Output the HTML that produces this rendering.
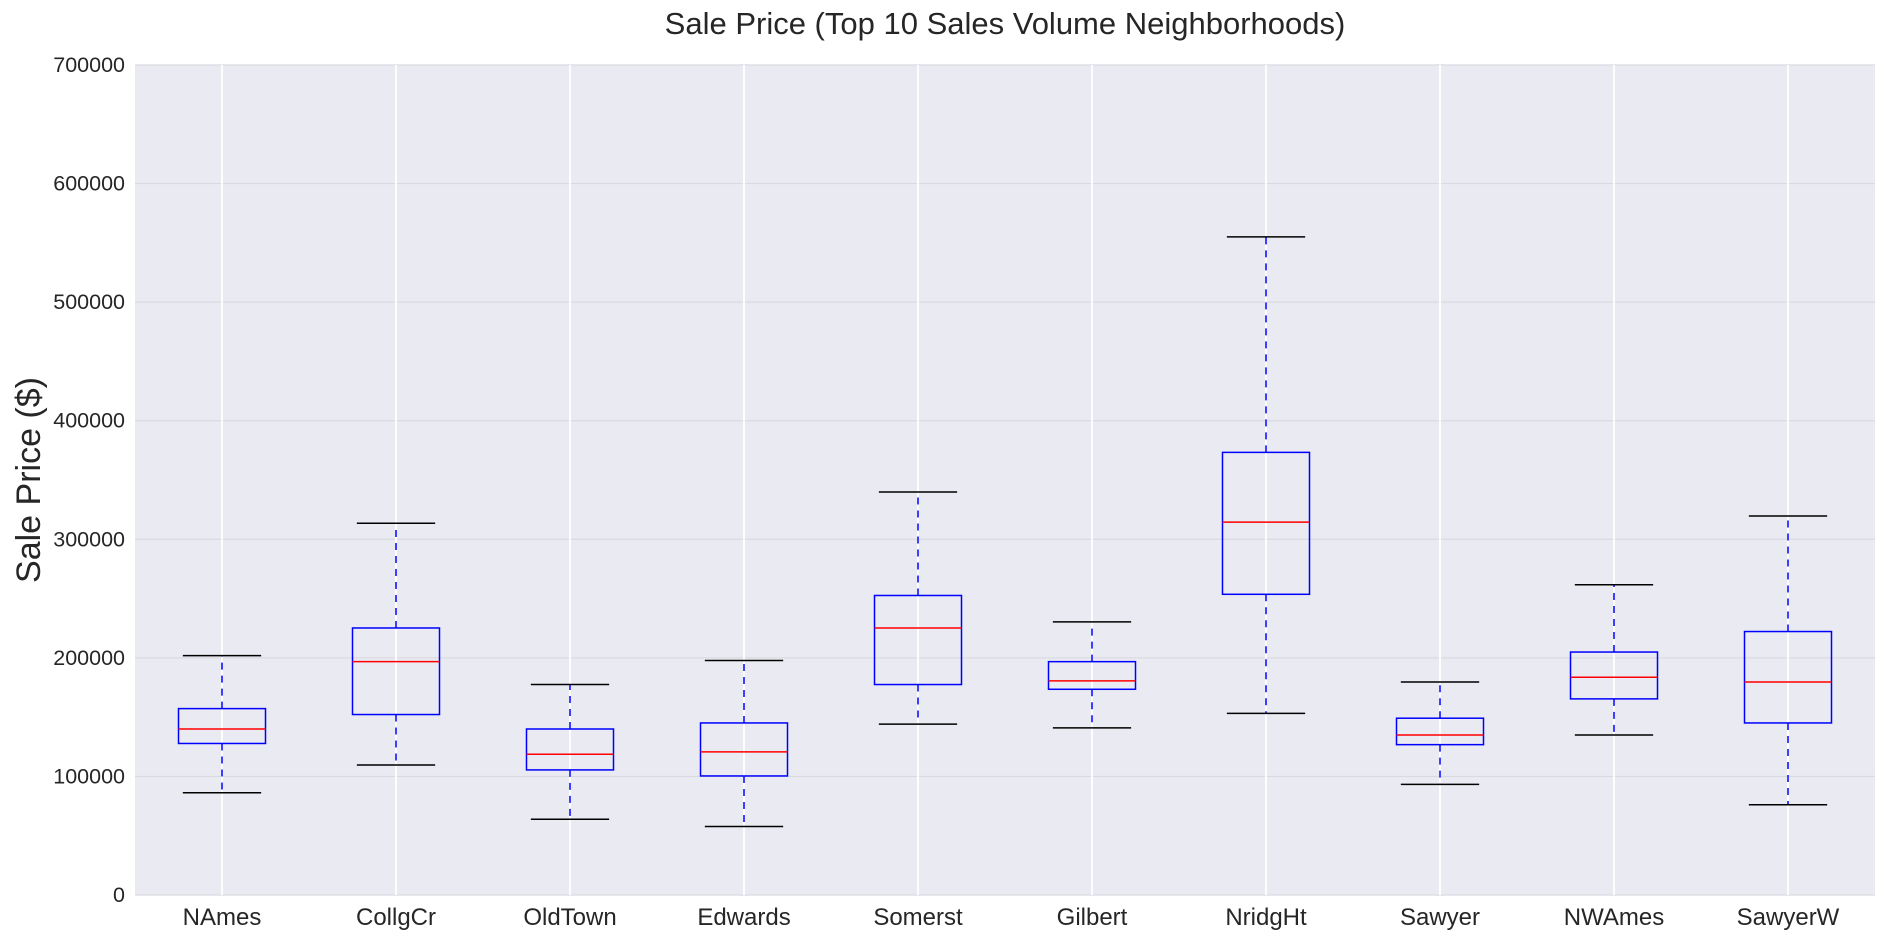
<!DOCTYPE html>
<html><head><meta charset="utf-8"><style>
body{margin:0;background:#fff;}
svg{display:block;font-family:"Liberation Sans",Arial,sans-serif;}
</style></head><body>
<svg id="chart" width="1884" height="938">
<rect x="135" y="65" width="1740" height="830" fill="#eaeaf2"/>
<g id="grid"></g>
<g id="marks"></g>
<g id="axes"></g>
<text x="1005" y="34" text-anchor="middle" font-size="31" fill="#262626">Sale Price (Top 10 Sales Volume Neighborhoods)</text>
<text transform="translate(40,480) rotate(-90)" text-anchor="middle" font-size="34" fill="#262626">Sale Price ($)</text>
</svg>
<script>
const categories=["NAmes","CollgCr","OldTown","Edwards","Somerst","Gilbert","NridgHt","Sawyer","NWAmes","SawyerW"];
const whiskerLow=[86200,109600,63900,57800,144100,141000,153200,93300,134900,76100];
const q1=[127800,152200,105500,100400,177500,173500,253600,126800,165400,145100];
const median=[140000,196800,118700,120700,225200,180600,314500,134900,183600,179600];
const q3=[157200,225200,140000,145100,252600,196800,373300,149100,204900,222200];
const whiskerHigh=[201900,313500,177500,197800,339900,230300,555000,179600,261700,319600];
const yTicks=[0,100000,200000,300000,400000,500000,600000,700000];
const NS="http://www.w3.org/2000/svg";
const X0=135,X1=1875,Y0=895,Y1=65,YMAX=700000;
function xs(i){return X0+(i+0.5)*(X1-X0)/categories.length;}
function ys(v){return Y0-(v/YMAX)*(Y0-Y1);}
const unit=(X1-X0)/categories.length;
function mk(tag,attrs,parent){const e=document.createElementNS(NS,tag);for(const k in attrs)e.setAttribute(k,attrs[k]);parent.appendChild(e);return e;}
const grid=document.getElementById('grid'),marks=document.getElementById('marks'),axes=document.getElementById('axes');
yTicks.forEach(t=>{
 const l=mk('line',{x1:X0,x2:X1,y1:ys(t),y2:ys(t),stroke:'#d9d9e0','stroke-width':1.2},grid);
 
 
 const tx=mk('text',{x:X0-10,y:ys(t)+7,'text-anchor':'end','font-size':21.5,fill:'#262626'},axes);
 tx.textContent=String(t);
 
 
});
categories.forEach((c,i)=>{
 const x=xs(i);
 const g=mk('line',{x1:x,x2:x,y1:Y1,y2:Y0,stroke:'#ffffff','stroke-width':1.8},grid);
 
 
 const grp=mk('g',{},marks);
 
 
 const bw=unit*0.5, cw=unit*0.45;
 mk('line',{x1:x,x2:x,y1:ys(q3[i]),y2:ys(whiskerHigh[i]),stroke:'#0000ff','stroke-width':1.5,'stroke-dasharray':'7,6'},grp);
 mk('line',{x1:x,x2:x,y1:ys(q1[i]),y2:ys(whiskerLow[i]),stroke:'#0000ff','stroke-width':1.5,'stroke-dasharray':'7,6'},grp);
 mk('line',{x1:x-cw/2,x2:x+cw/2,y1:ys(whiskerHigh[i]),y2:ys(whiskerHigh[i]),stroke:'#000','stroke-width':1.5},grp);
 mk('line',{x1:x-cw/2,x2:x+cw/2,y1:ys(whiskerLow[i]),y2:ys(whiskerLow[i]),stroke:'#000','stroke-width':1.5},grp);
 mk('rect',{x:x-bw/2,y:ys(q3[i]),width:bw,height:ys(q1[i])-ys(q3[i]),fill:'none',stroke:'#0000ff','stroke-width':1.5},grp);
 mk('line',{x1:x-bw/2,x2:x+bw/2,y1:ys(median[i]),y2:ys(median[i]),stroke:'#ff0000','stroke-width':1.5},grp);
 const tx=mk('text',{x:x,y:925,'text-anchor':'middle','font-size':24,fill:'#262626'},axes);
 tx.textContent=c;
 
 
});
</script>
</body></html>
